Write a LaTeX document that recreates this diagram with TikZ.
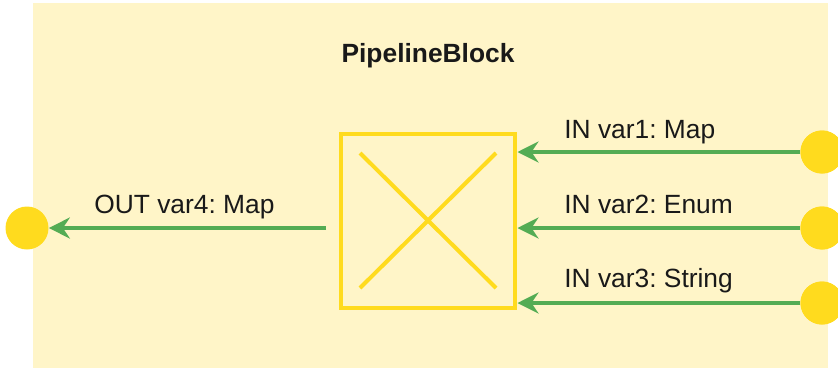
\documentclass[tikz,border=0pt]{standalone}
\usepackage{fontspec}
\setmainfont{Liberation Sans}
\frenchspacing
\usetikzlibrary{arrows.meta}

\definecolor{blockfill}{RGB}{255,245,200}
\definecolor{portyellow}{RGB}{255,219,30}
\definecolor{flowgreen}{RGB}{84,172,84}
\definecolor{labeltext}{RGB}{25,25,25}

\tikzset{
  port/.style={shape=circle, fill=portyellow, inner sep=0pt, minimum size=0.86cm},
  flow/.style={draw=flowgreen, line width=0.08cm,
    -{Stealth[length=0.42cm, width=0.42cm, inset=0.14cm]}},
  portlabel/.style={anchor=base west, inner sep=0pt, text=labeltext,
    font=\fontsize{15}{18}\selectfont},
}

\begin{document}
\begin{tikzpicture}[x=0.02cm, y=-0.02cm]
          \useasboundingbox (0,0) rectangle (838,369);
          \fill[blockfill] (33,3) rectangle (828,368);

          % nodes
          \node[anchor=base, inner sep=0pt, text=labeltext,
          font=\fontsize{15}{18}\selectfont\bfseries] at (428,62)
          (title) {PipelineBlock};
          \node[shape=rectangle, draw=portyellow, line width=0.08cm,
          minimum size=3.5cm, inner sep=0pt] at (428,221)
          (box) {};
          \node[port] at (822,152) (in1) {};
          \node[port] at (822,228) (in2) {};
          \node[port] at (822,303) (in3) {};
          \node[port] at (27,228) (out4) {};
          \coordinate (outsrc) at (326,228);

          % cross
          \draw[portyellow, line width=0.08cm]
          (360,153) -- (496,288)
          (360,288) -- (496,153)
          ;

          % labels
          \node[portlabel] at (564,138) (l1) {IN var1: Map};
          \node[portlabel] at (564,213) (l2) {IN var2: Enum};
          \node[portlabel] at (564,287) (l3) {IN var3: String};
          \node[portlabel] at (94,213) (l4) {OUT var4: Map};

          % arcs
          \draw[flow] (in1.west) -- (box.east |- in1);
          \draw[flow] (in2.west) -- (box.east |- in2);
          \draw[flow] (in3.west) -- (box.east |- in3);
          \draw[flow] (outsrc) -- (out4);

          % ports on top
          \node[port] at (in1) {};
          \node[port] at (in2) {};
          \node[port] at (in3) {};
        \end{tikzpicture}
\end{document}
